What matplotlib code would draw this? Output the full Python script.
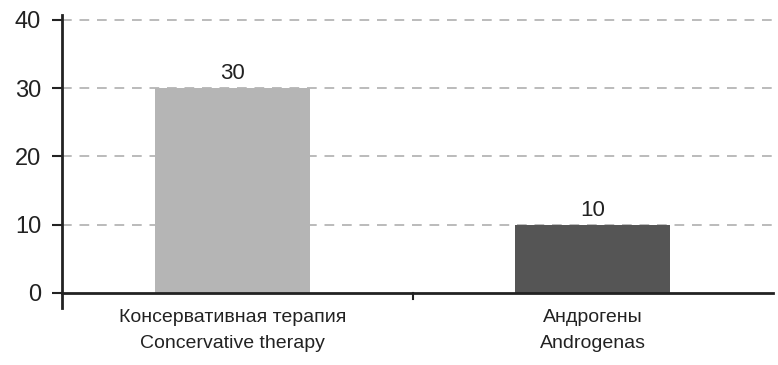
import numpy as np
import matplotlib.pyplot as plt

plt.rcParams['font.family'] = ['Liberation Sans', 'DejaVu Sans']

categories = ['Консервативная терапия\nConcervative therapy', 'Андрогены\nAndrogenas']
values = [30, 10]
colors = ['#b5b5b5', '#555555']
yticks = [0, 10, 20, 30, 40]

fig = plt.figure(figsize=(7.78, 3.65), dpi=100)
ax = fig.add_axes([62 / 778, 57 / 365, 711 / 778, 293 / 365])

x = np.arange(len(categories))
ax.bar(x, values, width=0.43, color=colors, zorder=3)
for xi, v in zip(x, values):
    ax.text(xi, v + 0.6, f'{v}', ha='center', va='bottom', fontsize=16, color='#222222')

ax.set_xlim(-0.474, 1.5)
ax.set_ylim(-2.2, 40.7)
ax.set_yticks(yticks)
ax.tick_params(axis='y', labelsize=17, colors='#222222', length=7, width=1.5, pad=8)
ax.set_xticks(x)
ax.set_xticklabels(categories, fontsize=14, color='#222222', linespacing=1.65)
ax.tick_params(axis='x', length=0, pad=1)

for yv in yticks[1:]:
    ax.axhline(yv, color='#bbbbbb', linestyle=(0, (5, 4)), linewidth=1.4, zorder=1)
ax.axhline(0, color='#222222', linewidth=2, zorder=4, clip_on=False)
ax.plot([0.5, 0.5], [0, -0.9], color='#222222', linewidth=1.5, clip_on=False)

for side in ['top', 'right', 'bottom']:
    ax.spines[side].set_visible(False)
ax.spines['left'].set_linewidth(2)
ax.spines['left'].set_color('#222222')

fig.savefig('out.png', dpi=100, facecolor='white')
